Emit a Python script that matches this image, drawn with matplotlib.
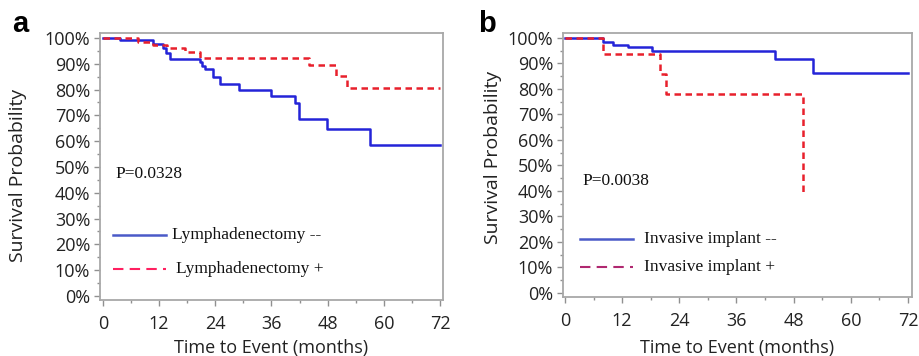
import matplotlib
matplotlib.use('Agg')
import matplotlib.pyplot as plt
from matplotlib.ticker import MultipleLocator, FuncFormatter

# panel a: lymphadenectomy
t_a_neg = [0, 3.6, 10.7, 12.9, 13.5, 14.4, 20.8, 21.2, 21.9, 23.6, 25, 29, 36, 41.1, 41.8, 47.9, 57, 72]
s_a_neg = [1.0, 0.99, 0.977, 0.96, 0.943, 0.917, 0.905, 0.89, 0.879, 0.85, 0.82, 0.798, 0.773, 0.747, 0.685, 0.646, 0.585, 0.585]
t_a_pos = [0, 7.5, 10.7, 13.7, 17.6, 20.8, 44, 49.7, 52.2, 72]
s_a_pos = [1.0, 0.984, 0.973, 0.96, 0.947, 0.923, 0.895, 0.853, 0.807, 0.807]

# panel b: invasive implant
t_b_neg = [0, 8, 10, 13.2, 18.2, 44.1, 52.1, 72]
s_b_neg = [1.0, 0.983, 0.973, 0.963, 0.949, 0.916, 0.864, 0.864]
t_b_pos = [0, 8, 19.9, 21.2, 49.9]
s_b_pos = [1.0, 0.936, 0.857, 0.779, 0.391]

labels_a = ['Lymphadenectomy --', 'Lymphadenectomy +']
labels_b = ['Invasive implant --', 'Invasive implant +']
pvals = ['P=0.0328', 'P=0.0038']
xticks = [0, 12, 24, 36, 48, 60, 72]

blue = '#2424d8'
red = '#e8202c'
frame_col = '#a8a8a8'
sans = ['Open Sans', 'DejaVu Sans']
serif = ['Liberation Serif', 'DejaVu Serif']

fig = plt.figure(figsize=(9.19, 3.56), dpi=100)
ax_a = fig.add_axes([0.1088, 0.1573, 0.3732, 0.75])
ax_b = fig.add_axes([0.6126, 0.1657, 0.3798, 0.742])


def style_axes(ax, xlim, ylim, ylab_xy, xlab_y):
    ax.set_xlim(*xlim)
    ax.set_ylim(*ylim)
    for sp in ax.spines.values():
        sp.set_color(frame_col)
        sp.set_linewidth(1.3)
    ax.set_xticks(xticks)
    ax.xaxis.set_minor_locator(MultipleLocator(6))
    ax.yaxis.set_major_locator(MultipleLocator(0.1))
    ax.yaxis.set_minor_locator(MultipleLocator(0.05))
    ax.yaxis.set_major_formatter(FuncFormatter(lambda v, p: '%d%%' % round(v * 100)))
    ax.tick_params(which='both', direction='out', color='#909090', width=1)
    ax.tick_params(which='major', length=4, labelsize=13, labelcolor='#222222')
    ax.tick_params(which='minor', length=2.5)
    ax.tick_params(axis='x', which='major', pad=6.5)
    ax.tick_params(axis='y', which='major', pad=3)
    for lab in ax.get_xticklabels() + ax.get_yticklabels():
        lab.set_family(sans)
    ax.set_xlabel('Time to Event (months)', fontsize=13, family=sans, color='#222222')
    ax.set_ylabel('Survival Probability', fontsize=14, family=sans, color='#222222')
    ax.yaxis.set_label_coords(*ylab_xy)
    ax.xaxis.set_label_coords(0.5, xlab_y)


# panel a
style_axes(ax_a, (-0.64, 72.64), (-0.0155, 1.019), (-0.213, 0.468), -0.146)
ax_a.step(t_a_neg, s_a_neg, where='post', color=blue, lw=1.8)
ax_a.step(t_a_pos, s_a_pos, where='post', color=red, lw=1.8, ls=(0, (2.6, 1.8)))
ax_a.plot([2.1, 13.4], [0.236, 0.236], color='#4a5ac8', lw=1.8)
ax_a.plot([2.1, 13.4], [0.105, 0.105], color='#ff2060', lw=1.5, ls=(0, (5, 3)))
ax_a.text(14.7, 0.236, labels_a[0], family=serif, fontsize=12.5, va='center', color='#111111')
ax_a.text(15.5, 0.105, labels_a[1], family=serif, fontsize=12.5, va='center', color='#111111')
ax_a.text(2.6, 0.473, pvals[0], family=serif, fontsize=12.5, va='center', color='#111111')

# panel b
style_axes(ax_b, (-0.42, 72.84), (-0.0157, 1.0196), (-0.175, 0.527), -0.159)
ax_b.step(t_b_neg, s_b_neg, where='post', color=blue, lw=1.8)
ax_b.step(t_b_pos, s_b_pos, where='post', color=red, lw=1.8, ls=(0, (2.6, 1.8)))
ax_b.plot([3.1, 14.2], [0.212, 0.212], color='#4a5ac8', lw=1.8)
ax_b.plot([3.1, 14.2], [0.102, 0.102], color='#b02870', lw=1.5, ls=(0, (5, 3)))
ax_b.text(16.5, 0.212, labels_b[0], family=serif, fontsize=12.5, va='center', color='#111111')
ax_b.text(16.5, 0.102, labels_b[1], family=serif, fontsize=12.5, va='center', color='#111111')
ax_b.text(3.6, 0.44, pvals[1], family=serif, fontsize=12.5, va='center', color='#111111')

fig.text(12 / 919, 1 - 24 / 356, 'a', fontsize=21, fontweight='bold', family=['Liberation Sans', 'DejaVu Sans'], va='center')
fig.text(478 / 919, 1 - 24 / 356, 'b', fontsize=21, fontweight='bold', family=['Liberation Sans', 'DejaVu Sans'], va='center')

fig.savefig('out.png', dpi=100)
